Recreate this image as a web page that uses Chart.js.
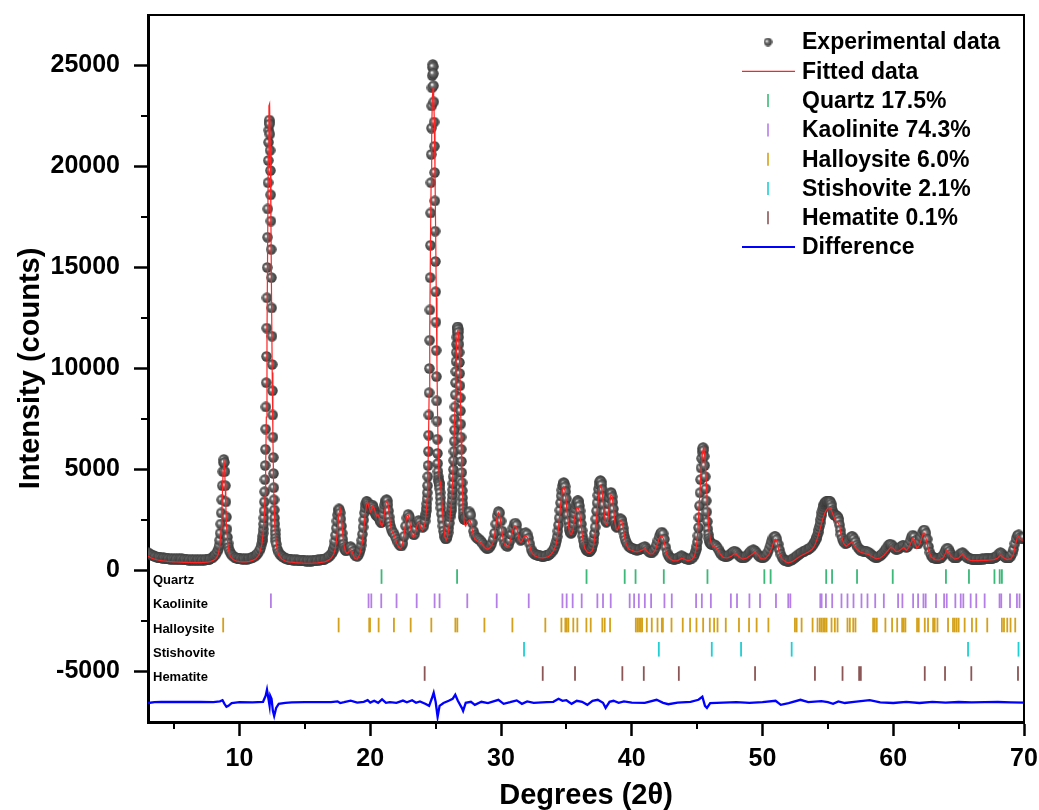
<!DOCTYPE html>
<html>
<head>
<meta charset="utf-8">
<script src="https://cdn.jsdelivr.net/npm/chart.js@4.4.1/dist/chart.umd.min.js"></script>
<style>
  html, body { margin: 0; padding: 0; background: #fff; }
  #wrap { width: 1039px; height: 810px; }
</style>
</head>
<body>
<div id="wrap"><canvas id="xrd" width="1039" height="810"></canvas></div>
<script>
// scan positions of the measured pattern (degrees 2-theta)
var obsTheta = [
  3.0, 3.1, 3.2, 3.3, 3.4, 3.5, 3.6, 3.7, 3.8, 3.9,
  4.0, 4.1, 4.2, 4.3, 4.4, 4.5, 4.6, 4.7, 4.8, 4.9,
  5.0, 5.1, 5.2, 5.3, 5.4, 5.5, 5.6, 5.7, 5.8, 5.9,
  6.0, 6.1, 6.2, 6.3, 6.4, 6.5, 6.6, 6.7, 6.8, 6.9,
  7.0, 7.1, 7.2, 7.3, 7.4, 7.5, 7.6, 7.7, 7.8, 7.9,
  8.0, 8.1, 8.2, 8.3,
  8.40, 8.44, 8.48, 8.52, 8.56, 8.60, 8.64, 8.68, 8.72, 8.76,
  8.80, 8.84, 8.88, 8.92, 8.96, 9.00, 9.04, 9.08, 9.12, 9.16,
  9.20,
  9.3, 9.4, 9.5, 9.6, 9.7, 9.8, 9.9,
  10.0, 10.1, 10.2, 10.3, 10.4, 10.5, 10.6, 10.7, 10.8, 10.9,
  11.0, 11.1, 11.2, 11.3, 11.4, 11.5, 11.6, 11.7,
  11.74, 11.76, 11.78, 11.80, 11.82, 11.84, 11.86, 11.88, 11.90, 11.92,
  11.94, 11.96, 11.98, 12.00, 12.02, 12.04, 12.06, 12.08, 12.10, 12.12,
  12.14, 12.16, 12.18, 12.20, 12.22, 12.24, 12.26, 12.28, 12.30, 12.32,
  12.34, 12.36, 12.38, 12.40, 12.42, 12.44, 12.46, 12.48, 12.50, 12.52,
  12.54, 12.56, 12.58, 12.60, 12.62, 12.64, 12.66, 12.68, 12.70, 12.72,
  12.74, 12.76, 12.78, 12.80,
  12.9, 13.0, 13.1, 13.2, 13.3, 13.4, 13.5, 13.6, 13.7, 13.8,
  13.9, 14.0, 14.1, 14.2, 14.3, 14.4, 14.5, 14.6, 14.7, 14.8,
  14.9, 15.0, 15.1, 15.2, 15.3, 15.4, 15.5, 15.6, 15.7, 15.8,
  15.9, 16.0, 16.1, 16.2, 16.3, 16.4, 16.5, 16.6, 16.7, 16.8,
  16.9, 17.0, 17.1,
  17.15, 17.20, 17.25, 17.30, 17.35, 17.40, 17.45, 17.50, 17.55, 17.60,
  17.65, 17.70, 17.75, 17.80, 17.85, 17.90, 17.95, 18.00, 18.05,
  18.1, 18.2, 18.3, 18.4, 18.5, 18.6, 18.7, 18.8, 18.9, 19.0,
  19.1, 19.2,
  19.25, 19.30, 19.35, 19.40, 19.45, 19.50, 19.55, 19.60, 19.65, 19.70,
  19.75, 19.80, 19.85, 19.90, 19.95, 20.00, 20.05, 20.10, 20.15, 20.20,
  20.25, 20.30, 20.35, 20.40, 20.45, 20.50, 20.55, 20.60, 20.65, 20.70,
  20.75, 20.80, 20.85, 20.90, 20.95, 21.00, 21.05, 21.10, 21.15, 21.20,
  21.25, 21.30, 21.35, 21.40, 21.45, 21.50, 21.55, 21.60,
  21.7, 21.8, 21.9, 22.0, 22.1, 22.2, 22.3, 22.4, 22.5, 22.6,
  22.7, 22.8, 22.9, 23.0, 23.1, 23.2, 23.3, 23.4, 23.5, 23.6,
  23.7, 23.8, 23.9, 24.0, 24.1, 24.2,
  24.24, 24.26, 24.28, 24.30, 24.32, 24.34, 24.36, 24.38, 24.40, 24.42,
  24.44, 24.46, 24.48, 24.50, 24.52, 24.54, 24.56, 24.58, 24.60, 24.62,
  24.64, 24.66, 24.68, 24.70, 24.72, 24.74, 24.76, 24.78, 24.80, 24.82,
  24.84, 24.86, 24.88, 24.90, 24.92, 24.94, 24.96, 24.98, 25.00, 25.02,
  25.04, 25.06, 25.08, 25.10, 25.12, 25.14, 25.16, 25.18, 25.20, 25.22,
  25.24, 25.26, 25.28, 25.30, 25.32, 25.34, 25.36, 25.38, 25.40,
  25.45, 25.50, 25.55, 25.60, 25.65, 25.70, 25.75, 25.80, 25.85, 25.90,
  25.95, 26.00, 26.05, 26.10, 26.15,
  26.20, 26.22, 26.24, 26.26, 26.28, 26.30, 26.32, 26.34, 26.36, 26.38,
  26.40, 26.42, 26.44, 26.46, 26.48, 26.50, 26.52, 26.54, 26.56, 26.58,
  26.60, 26.62, 26.64, 26.66, 26.68, 26.70, 26.72, 26.74, 26.76, 26.78,
  26.80, 26.82, 26.84, 26.86, 26.88, 26.90, 26.92, 26.94, 26.96, 26.98,
  27.00, 27.02, 27.04, 27.06, 27.08, 27.10, 27.12, 27.14, 27.16, 27.18,
  27.20, 27.22, 27.24, 27.26,
  27.3, 27.4, 27.5, 27.6, 27.7, 27.8, 27.9, 28.0, 28.1, 28.2,
  28.3, 28.4, 28.5, 28.6, 28.7, 28.8, 28.9, 29.0, 29.1, 29.2,
  29.3, 29.4, 29.5, 29.6, 29.7, 29.8, 29.9, 30.0, 30.1, 30.2,
  30.3, 30.4, 30.5, 30.6, 30.7, 30.8, 30.9, 31.0, 31.1, 31.2,
  31.3, 31.4, 31.5, 31.6, 31.7, 31.8, 31.9, 32.0, 32.1, 32.2,
  32.3, 32.4, 32.5, 32.6, 32.7, 32.8, 32.9, 33.0, 33.1, 33.2,
  33.3, 33.4, 33.5, 33.6, 33.7, 33.8, 33.9, 34.0, 34.1, 34.2,
  34.25, 34.30, 34.35, 34.40, 34.45, 34.50, 34.55, 34.60, 34.65, 34.70,
  34.75, 34.80, 34.85, 34.90, 34.95, 35.00, 35.05, 35.10, 35.15, 35.20,
  35.25, 35.30, 35.35, 35.40, 35.45, 35.50, 35.55, 35.60, 35.65, 35.70,
  35.75, 35.80, 35.85, 35.90, 35.95, 36.00, 36.05, 36.10, 36.15, 36.20,
  36.25, 36.30, 36.35, 36.40, 36.45, 36.50, 36.55, 36.60, 36.65, 36.70,
  36.75, 36.80, 36.85, 36.90, 36.95, 37.00, 37.05, 37.10, 37.15, 37.20,
  37.25, 37.30, 37.35, 37.40, 37.45, 37.50, 37.55, 37.60, 37.65, 37.70,
  37.75, 37.80, 37.85, 37.90, 37.95, 38.00, 38.05, 38.10, 38.15, 38.20,
  38.25, 38.30, 38.35, 38.40, 38.45, 38.50, 38.55, 38.60, 38.65, 38.70,
  38.75, 38.80, 38.85, 38.90, 38.95, 39.00, 39.05, 39.10, 39.15, 39.20,
  39.25, 39.30, 39.35, 39.40, 39.45, 39.50,
  39.6, 39.7, 39.8, 39.9, 40.0, 40.1, 40.2, 40.3, 40.4, 40.5,
  40.6, 40.7, 40.8, 40.9, 41.0, 41.1, 41.2, 41.3, 41.4, 41.5,
  41.6, 41.7, 41.8, 41.9, 42.0, 42.1, 42.2, 42.3, 42.4, 42.5,
  42.6, 42.7, 42.8, 42.9, 43.0, 43.1, 43.2, 43.3, 43.4, 43.5,
  43.6, 43.7, 43.8, 43.9, 44.0, 44.1, 44.2, 44.3, 44.4, 44.5,
  44.6, 44.7, 44.8, 44.9,
  44.94, 44.98, 45.02, 45.06, 45.10, 45.14, 45.18, 45.22, 45.26, 45.30,
  45.34, 45.38, 45.42, 45.46, 45.50, 45.54, 45.58, 45.62, 45.66, 45.70,
  45.74, 45.78, 45.82, 45.86, 45.90, 45.94, 45.98, 46.02, 46.06, 46.10,
  46.2, 46.3, 46.4, 46.5, 46.6, 46.7, 46.8, 46.9, 47.0, 47.1,
  47.2, 47.3, 47.4, 47.5, 47.6, 47.7, 47.8, 47.9, 48.0, 48.1,
  48.2, 48.3, 48.4, 48.5, 48.6, 48.7, 48.8, 48.9, 49.0, 49.1,
  49.2, 49.3, 49.4, 49.5, 49.6, 49.7, 49.8, 49.9, 50.0, 50.1,
  50.2, 50.3, 50.4, 50.5, 50.6, 50.7, 50.8, 50.9, 51.0, 51.1,
  51.2, 51.3, 51.4, 51.5, 51.6, 51.7, 51.8, 51.9, 52.0, 52.1,
  52.2, 52.3, 52.4, 52.5, 52.6, 52.7, 52.8, 52.9, 53.0, 53.1,
  53.2, 53.3, 53.4, 53.5, 53.6, 53.7, 53.8, 53.9, 54.0,
  54.05, 54.10, 54.15, 54.20, 54.25, 54.30, 54.35, 54.40, 54.45, 54.50,
  54.55, 54.60, 54.65, 54.70, 54.75, 54.80, 54.85, 54.90, 54.95, 55.00,
  55.05, 55.10, 55.15, 55.20, 55.25, 55.30, 55.35, 55.40, 55.45, 55.50,
  55.55, 55.60, 55.65, 55.70, 55.75, 55.80, 55.85, 55.90, 55.95, 56.00,
  56.1, 56.2, 56.3, 56.4, 56.5, 56.6, 56.7, 56.8, 56.9, 57.0,
  57.1, 57.2, 57.3, 57.4, 57.5, 57.6, 57.7, 57.8, 57.9, 58.0,
  58.1, 58.2, 58.3, 58.4, 58.5, 58.6, 58.7, 58.8, 58.9, 59.0,
  59.1, 59.2, 59.3, 59.4, 59.5, 59.6, 59.7, 59.8, 59.9, 60.0,
  60.1, 60.2, 60.3, 60.4, 60.5, 60.6, 60.7, 60.8, 60.9, 61.0,
  61.1, 61.2, 61.3, 61.4, 61.5, 61.6, 61.7, 61.8, 61.9, 62.0,
  62.1, 62.2, 62.3, 62.4, 62.5, 62.6, 62.7, 62.8, 62.9, 63.0,
  63.1, 63.2, 63.3, 63.4, 63.5, 63.6, 63.7, 63.8, 63.9, 64.0,
  64.1, 64.2, 64.3, 64.4, 64.5, 64.6, 64.7, 64.8, 64.9, 65.0,
  65.1, 65.2, 65.3, 65.4, 65.5, 65.6, 65.7, 65.8, 65.9, 66.0,
  66.1, 66.2, 66.3, 66.4, 66.5, 66.6, 66.7, 66.8, 66.9, 67.0,
  67.1, 67.2, 67.3, 67.4, 67.5, 67.6, 67.7, 67.8, 67.9, 68.0,
  68.1, 68.2, 68.3, 68.4, 68.5, 68.6, 68.7, 68.8, 68.9, 69.0,
  69.1, 69.2, 69.3, 69.4, 69.5, 69.6, 69.7, 69.8, 69.9, 70.0
];

// measured intensity (counts), same order as obsTheta
var observed = [
  880, 830, 800, 760, 740, 700, 690, 650, 660, 620,
  640, 600, 620, 580, 610, 570, 600, 560, 590, 550,
  580, 540, 580, 540, 570, 530, 570, 520, 560, 520,
  550, 510, 550, 510, 540, 500, 540, 500, 530, 500,
  540, 500, 540, 510, 550, 520, 560, 550, 600, 620,
  680, 740, 820, 930,
  1080, 1250, 1500, 1850, 2300, 2850, 3500, 4200, 4900, 5350,
  5500, 5350, 4900, 4200, 3400, 2650, 2050, 1650, 1350, 1150,
  1000,
  880, 780, 720, 660, 640, 600, 610,
  570, 590, 550, 580, 550, 580, 560, 590, 590, 620,
  640, 680, 720, 780, 860, 960, 1100, 1300,
  1450, 1550, 1700, 1850, 2050, 2300, 2600, 2950, 3400, 3900,
  4500, 5200, 6000, 7000, 8100, 9300, 10600, 12000, 13500, 15000,
  16500, 17900, 19200, 20300, 21200, 21800, 22200, 22300, 22100, 21600,
  20800, 19800, 18600, 17300, 15900, 14500, 13000, 11600, 10200, 8900,
  7700, 6600, 5600, 4800, 4100, 3500, 3000, 2600, 2300, 2000,
  1800, 1600, 1450, 1300,
  1050, 900, 800, 740, 680, 650, 600, 590, 560, 560,
  530, 540, 510, 530, 500, 520, 490, 510, 480, 510,
  480, 500, 470, 500, 470, 500, 470, 500, 480, 510,
  490, 520, 500, 530, 520, 560, 560, 600, 620, 670,
  720, 800, 900,
  980, 1080, 1250, 1450, 1750, 2100, 2450, 2750, 2950, 3050,
  3000, 2850, 2550, 2200, 1850, 1550, 1300, 1150, 1050,
  1000, 980, 1020, 1120, 1180, 1100, 950, 800, 720, 700,
  780, 920,
  1050, 1250, 1500, 1800, 2150, 2500, 2850, 3100, 3300, 3400,
  3420, 3350, 3250, 3150, 3080, 3050, 3100, 3180, 3230, 3200,
  3100, 2980, 2870, 2800, 2750, 2720, 2700, 2680, 2620, 2550,
  2480, 2400, 2380, 2450, 2600, 2800, 3050, 3250, 3400, 3480,
  3500, 3450, 3250, 2950, 2650, 2400, 2200, 2050,
  1900, 1850, 1700, 1550, 1400, 1300, 1230, 1220, 1350, 1700,
  2200, 2600, 2780, 2650, 2250, 1950, 1780, 1800, 2050, 2350,
  2480, 2400, 2250, 2150, 2200, 2450,
  2700, 2800, 2950, 3100, 3300, 3550, 3850, 4200, 4650, 5200,
  5900, 6700, 7700, 8800, 10000, 11400, 12900, 14500, 16100, 17700,
  19200, 20600, 21900, 23000, 23900, 24500, 24900, 25050, 24950, 24600,
  24000, 23200, 22200, 21000, 19700, 18300, 16800, 15300, 13800, 12300,
  10900, 9600, 8400, 7400, 6500, 5800, 5300, 4900, 4650, 4500,
  4400, 4350, 4300, 4200, 4050, 3850, 3600, 3350, 3100,
  2800, 2500, 2200, 1950, 1780, 1650, 1580, 1570, 1620, 1720,
  1880, 2100, 2350, 2650, 2800,
  2950, 3100, 3300, 3500, 3750, 4000, 4300, 4650, 5000, 5450,
  5900, 6400, 6950, 7500, 8100, 8700, 9300, 9850, 10350, 10800,
  11200, 11550, 11800, 11950, 12050, 12050, 11950, 11800, 11550, 11200,
  10800, 10300, 9750, 9150, 8550, 7900, 7250, 6600, 6000, 5400,
  4850, 4350, 3950, 3600, 3300, 3050, 2850, 2700, 2600, 2550,
  2530, 2540, 2560, 2600,
  2620, 2700, 2850, 2900, 2750, 2350, 1950, 1750, 1650, 1600,
  1560, 1500, 1420, 1330, 1230, 1160, 1110, 1100, 1130, 1220,
  1350, 1550, 1850, 2300, 2700, 2920, 2850, 2450, 1950, 1550,
  1320, 1220, 1200, 1280, 1480, 1780, 2100, 2300, 2350, 2250,
  1920, 1620, 1500, 1540, 1700, 1850, 1870, 1800, 1600, 1320,
  1060, 920, 850, 800, 780, 750, 740, 720, 710, 700,
  710, 720, 740, 760, 800, 860, 930, 1020, 1150, 1320,
  1480, 1680, 1950, 2250, 2600, 2980, 3350, 3700, 3980, 4200,
  4320, 4350, 4300, 4150, 3900, 3550, 3150, 2750, 2420, 2150,
  1980, 1880, 1850, 1870, 1950, 2100, 2300, 2550, 2800, 3050,
  3250, 3380, 3450, 3450, 3380, 3200, 2950, 2650, 2300, 1980,
  1700, 1480, 1320, 1200, 1120, 1060, 1020, 990, 970, 960,
  950, 960, 990, 1040, 1120, 1230, 1380, 1580, 1830, 2150,
  2550, 2950, 3350, 3720, 4030, 4250, 4400, 4450, 4400, 4250,
  4000, 3650, 3250, 2900, 2620, 2450, 2400, 2450, 2650, 2950,
  3300, 3600, 3800, 3870, 3820, 3650, 3380, 3050, 2720, 2450,
  2270, 2180, 2150, 2180, 2260, 2350, 2450, 2520, 2550, 2530,
  2450, 2300, 2100, 1880, 1680, 1520,
  1380, 1260, 1180, 1130, 1100, 1080, 1050, 1030, 1010, 1020,
  1040, 1070, 1110, 1160, 1180, 1120, 1020, 940, 900, 890,
  910, 980, 1100, 1280, 1480, 1680, 1830, 1900, 1820, 1550,
  1150, 880, 740, 650, 600, 570, 560, 560, 570, 590,
  630, 690, 720, 700, 650, 600, 570, 560, 560, 580,
  610, 670, 780, 950,
  1050, 1200, 1420, 1720, 2120, 2620, 3200, 3850, 4500, 5080,
  5550, 5880, 6050, 6080, 5950, 5650, 5200, 4650, 4050, 3450,
  2900, 2420, 2050, 1780, 1600, 1480, 1400, 1350, 1320, 1300,
  1290, 1280, 1250, 1180, 1080, 960, 850, 770, 720, 700,
  690, 700, 730, 780, 840, 900, 940, 950, 900, 820,
  740, 680, 640, 620, 630, 670, 730, 800, 880, 950,
  1000, 1020, 990, 920, 830, 740, 680, 650, 640, 660,
  700, 780, 900, 1060, 1250, 1450, 1600, 1680, 1680, 1550,
  1300, 1020, 800, 650, 560, 510, 480, 470, 460, 480,
  520, 560, 610, 660, 710, 760, 810, 860, 890, 930,
  960, 990, 1030, 1060, 1100, 1150, 1220, 1310, 1420,
  1480, 1560, 1650, 1760, 1880, 2020, 2180, 2350, 2530, 2710,
  2880, 3030, 3160, 3260, 3330, 3370, 3400, 3420, 3420, 3410,
  3400, 3400, 3420, 3400, 3300, 3150, 2980, 2850, 2780, 2750,
  2730, 2720, 2700, 2680, 2650, 2580, 2450, 2250, 2000, 1780,
  1570, 1430, 1360, 1340, 1380, 1480, 1600, 1680, 1680, 1580,
  1420, 1260, 1140, 1060, 1010, 980, 960, 950, 940, 930,
  900, 860, 800, 740, 690, 660, 650, 660, 690, 730,
  780, 850, 930, 1020, 1120, 1220, 1290, 1300, 1260, 1180,
  1100, 1060, 1050, 1070, 1120, 1180, 1230, 1240, 1200, 1150,
  1180, 1300, 1480, 1660, 1750, 1680, 1480, 1320, 1320, 1450,
  1650, 1850, 1980, 2000, 1850, 1550, 1180, 900, 740, 660,
  620, 600, 590, 590, 600, 620, 660, 740, 860, 1000,
  1100, 1080, 960, 820, 720, 660, 630, 630, 660, 720,
  800, 860, 870, 820, 740, 670, 620, 590, 570, 560,
  560, 550, 550, 560, 550, 560, 560, 570, 560, 570,
  570, 580, 580, 590, 590, 600, 620, 650, 700, 760,
  840, 880, 840, 760, 690, 640, 620, 620, 650, 720,
  850, 1050, 1330, 1580, 1740, 1760, 1640, 1560, 1600, 1650
];

// grid of the calculated (fitted) pattern
var calcTheta = [
  3.0, 3.25, 3.5, 3.75, 4.0, 4.25, 4.5, 4.75, 5.0, 5.25,
  5.5, 5.75, 6.0, 6.25, 6.5, 6.75, 7.0, 7.25, 7.5, 7.75,
  8.0, 8.2, 8.3, 8.4, 8.5, 8.6, 8.65, 8.7, 8.75, 8.8,
  8.85, 8.9, 8.95, 9.0, 9.1, 9.2, 9.3, 9.5, 9.75, 10.0,
  10.25, 10.5, 10.75, 11.0, 11.25, 11.5, 11.7, 11.8, 11.9, 11.95,
  12.0, 12.05, 12.1, 12.15, 12.2, 12.25, 12.3, 12.35, 12.4, 12.45,
  12.5, 12.55, 12.6, 12.65, 12.7, 12.8, 12.9, 13.0, 13.25, 13.5,
  13.75, 14.0, 14.25, 14.5, 14.75, 15.0, 15.25, 15.5, 15.75, 16.0,
  16.25, 16.5, 16.75, 17.0, 17.2, 17.3, 17.4, 17.5, 17.6, 17.7,
  17.8, 17.9, 18.0, 18.1, 18.2, 18.3, 18.4, 18.5, 18.6, 18.7,
  18.8, 19.0, 19.2, 19.4, 19.5, 19.6, 19.7, 19.8, 19.9, 20.0,
  20.1, 20.2, 20.3, 20.4, 20.5, 20.6, 20.7, 20.8, 20.9, 21.0,
  21.1, 21.2, 21.3, 21.4, 21.5, 21.6, 21.7, 21.8, 21.9, 22.0,
  22.1, 22.2, 22.3, 22.4, 22.5, 22.6, 22.7, 22.8, 22.9, 23.0,
  23.1, 23.2, 23.3, 23.4, 23.5, 23.6, 23.7, 23.8, 23.9, 24.0,
  24.1, 24.2, 24.3, 24.35, 24.4, 24.45, 24.5, 24.55, 24.6, 24.65,
  24.7, 24.75, 24.8, 24.85, 24.9, 24.95, 25.0, 25.05, 25.1, 25.15,
  25.2, 25.25, 25.3, 25.35, 25.4, 25.5, 25.6, 25.7, 25.8, 25.9,
  26.0, 26.1, 26.2, 26.3, 26.4, 26.5, 26.55, 26.6, 26.65, 26.7,
  26.75, 26.8, 26.85, 26.9, 26.95, 27.0, 27.1, 27.2, 27.3, 27.4,
  27.5, 27.6, 27.7, 27.8, 27.9, 28.0, 28.2, 28.4, 28.6, 28.8,
  29.0, 29.2, 29.4, 29.5, 29.6, 29.7, 29.8, 29.9, 30.0, 30.1,
  30.2, 30.3, 30.4, 30.5, 30.6, 30.7, 30.8, 30.9, 31.0, 31.1,
  31.2, 31.3, 31.4, 31.5, 31.6, 31.7, 31.8, 31.9, 32.0, 32.1,
  32.2, 32.3, 32.4, 32.6, 32.8, 33.0, 33.2, 33.4, 33.6, 33.8,
  34.0, 34.2, 34.3, 34.4, 34.5, 34.6, 34.7, 34.8, 34.9, 35.0,
  35.1, 35.2, 35.3, 35.4, 35.5, 35.6, 35.7, 35.8, 35.9, 36.0,
  36.1, 36.2, 36.3, 36.4, 36.6, 36.8, 37.0, 37.1, 37.2, 37.3,
  37.4, 37.5, 37.6, 37.7, 37.8, 37.9, 38.0, 38.1, 38.2, 38.3,
  38.4, 38.5, 38.6, 38.7, 38.8, 38.9, 39.0, 39.1, 39.2, 39.3,
  39.4, 39.5, 39.6, 39.8, 40.0, 40.2, 40.4, 40.6, 40.8, 41.0,
  41.2, 41.4, 41.6, 41.8, 41.9, 42.0, 42.1, 42.2, 42.3, 42.4,
  42.5, 42.6, 42.7, 42.9, 43.2, 43.5, 43.8, 44.0, 44.3, 44.6,
  44.8, 44.9, 45.0, 45.1, 45.2, 45.3, 45.4, 45.5, 45.6, 45.7,
  45.8, 45.9, 46.0, 46.1, 46.2, 46.4, 46.6, 46.8, 47.0, 47.3,
  47.6, 47.9, 48.2, 48.5, 48.8, 49.1, 49.4, 49.6, 49.9, 50.2,
  50.5, 50.7, 50.8, 50.9, 51.0, 51.1, 51.2, 51.3, 51.5, 51.8,
  52.0, 52.3, 52.6, 52.9, 53.2, 53.5, 53.8, 54.0, 54.2, 54.4,
  54.6, 54.8, 55.0, 55.2, 55.4, 55.6, 55.8, 55.9, 56.0, 56.2,
  56.4, 56.6, 56.8, 56.9, 57.0, 57.2, 57.5, 57.8, 58.1, 58.4,
  58.7, 59.0, 59.3, 59.6, 59.8, 60.0, 60.2, 60.4, 60.6, 60.8,
  61.0, 61.2, 61.4, 61.5, 61.6, 61.8, 62.0, 62.2, 62.3, 62.4,
  62.5, 62.7, 62.9, 63.2, 63.5, 63.8, 64.0, 64.1, 64.2, 64.4,
  64.7, 65.0, 65.2, 65.35, 65.6, 65.9, 66.2, 66.5, 66.8, 67.1,
  67.4, 67.7, 68.0, 68.2, 68.4, 68.7, 69.0, 69.2, 69.35, 69.5,
  69.6, 69.7, 69.85, 70.0
];

// Rietveld fit (counts), same order as calcTheta
var calculated = [
  720, 620, 560, 520, 490, 470, 450, 440, 430, 420,
  410, 400, 400, 395, 390, 390, 390, 395, 410, 440,
  500, 600, 700, 880, 1250, 2100, 2900, 4000, 5000, 5500,
  5200, 4300, 3300, 2300, 1350, 900, 680, 540, 470, 440,
  430, 430, 450, 500, 580, 780, 1250, 1800, 2700, 3700,
  5000, 7600, 11500, 16000, 20500, 23000, 23100, 21000, 17500, 13500,
  9800, 6800, 4500, 3100, 2200, 1400, 950, 750, 560, 470,
  430, 410, 390, 380, 370, 360, 360, 360, 370, 380,
  400, 430, 490, 600, 800, 1000, 1400, 2100, 2800, 3050,
  2600, 1800, 1200, 950, 850, 880, 1000, 1050, 950, 780,
  620, 560, 800, 1400, 2000, 2700, 3200, 3400, 3150, 2900,
  3000, 3200, 3100, 2850, 2700, 2750, 2600, 2300, 2200, 2400,
  2900, 3350, 3450, 3100, 2500, 2050, 1900, 1800, 1600, 1400,
  1250, 1150, 1100, 1150, 1400, 1850, 2350, 2700, 2750, 2500,
  2050, 1750, 1650, 1750, 2000, 2300, 2350, 2250, 2050, 2000,
  2100, 2400, 3000, 3600, 4600, 6200, 8700, 12000, 15800, 19000,
  21800, 23400, 23900, 23500, 22200, 19800, 16800, 13500, 10200, 7600,
  5800, 4900, 4500, 4400, 4100, 3200, 2300, 1700, 1500, 1650,
  2050, 2600, 3300, 4400, 6200, 8600, 10100, 11200, 11800, 11900,
  11700, 11100, 10000, 8500, 6700, 4900, 3000, 2300, 2200, 2400,
  2450, 2500, 2350, 2000, 1700, 1550, 1450, 1400, 1250, 1100,
  1050, 1150, 1400, 1700, 2200, 2650, 2850, 2700, 2300, 1800,
  1400, 1250, 1150, 1150, 1250, 1450, 1700, 2000, 2200, 2200,
  2100, 1800, 1500, 1400, 1450, 1600, 1700, 1700, 1650, 1450,
  1200, 980, 830, 720, 670, 640, 630, 650, 680, 780,
  950, 1250, 1600, 2150, 2800, 3500, 4000, 4150, 3950, 3300,
  2600, 2050, 1800, 1800, 2000, 2450, 2900, 3100, 3100, 2900,
  2400, 1850, 1400, 1100, 900, 880, 1000, 1300, 1800, 2500,
  3300, 3900, 4200, 4100, 3500, 2800, 2300, 2250, 2700, 3300,
  3750, 3700, 3150, 2450, 2050, 2000, 2150, 2400, 2500, 2300,
  1900, 1500, 1250, 1050, 1000, 950, 920, 960, 1020, 1080,
  920, 820, 830, 1000, 1200, 1400, 1600, 1700, 1700, 1600,
  1350, 1000, 760, 580, 480, 490, 600, 570, 480, 540,
  720, 1000, 1500, 2500, 3700, 4900, 5800, 6100, 5600, 4400,
  3100, 2100, 1550, 1300, 1200, 1150, 1000, 780, 650, 620,
  700, 850, 680, 560, 620, 760, 900, 820, 580, 580,
  800, 1100, 1300, 1500, 1550, 1450, 1150, 850, 560, 420,
  380, 450, 580, 720, 820, 920, 1050, 1250, 1600, 2050,
  2550, 2900, 3100, 3100, 2750, 2450, 2350, 2200, 1800, 1350,
  1200, 1300, 1400, 1350, 1250, 1050, 900, 850, 800, 680,
  580, 620, 760, 1000, 1150, 1100, 950, 950, 1050, 1150,
  1000, 1150, 1450, 1600, 1500, 1100, 1250, 1650, 1850, 1850,
  1600, 1000, 680, 540, 520, 620, 850, 1000, 950, 720,
  560, 620, 760, 780, 590, 500, 490, 490, 500, 500,
  520, 540, 620, 760, 640, 540, 580, 820, 1300, 1650,
  1700, 1550, 1500, 1600
];

// observed minus calculated, plotted with its offset
var diffTheta = [
  3.0, 3.5, 4.0, 5.0, 6.0, 7.0, 8.0, 8.5, 8.7, 8.85,
  9.0, 9.15, 9.4, 10.0, 11.0, 11.8, 12.0, 12.1, 12.2, 12.3,
  12.35, 12.45, 12.55, 12.65, 12.8, 13.0, 13.5, 14.0, 15.0, 16.0,
  17.0, 17.5, 17.7, 18.0, 18.5, 19.0, 19.5, 19.8, 20.0, 20.3,
  20.6, 20.9, 21.2, 21.5, 22.0, 22.5, 22.8, 23.2, 23.5, 23.8,
  24.2, 24.5, 24.7, 24.85, 25.0, 25.15, 25.3, 25.6, 26.0, 26.3,
  26.5, 26.7, 27.0, 27.1, 27.3, 27.7, 28.0, 28.5, 29.0, 29.8,
  30.2, 30.7, 31.2, 31.6, 32.0, 32.5, 33.5, 34.0, 34.4, 34.7,
  35.0, 35.4, 35.8, 36.2, 36.6, 37.0, 37.4, 37.8, 38.0, 38.3,
  38.6, 39.0, 39.4, 40.0, 41.0, 41.9, 42.4, 42.8, 43.5, 44.5,
  45.1, 45.4, 45.6, 45.75, 46.0, 47.0, 48.0, 49.0, 50.0, 51.0,
  51.4, 52.0, 52.9, 53.5, 54.5, 55.0, 55.4, 55.8, 56.3, 57.0,
  58.2, 59.0, 60.0, 61.0, 62.0, 63.0, 64.0, 65.0, 66.0, 67.0,
  68.0, 69.0, 70.0
];
var difference = [
  -6560, -6520, -6500, -6510, -6500, -6510, -6520, -6480, -6420, -6600,
  -6750, -6700, -6560, -6520, -6530, -6500, -6200, -5900, -6300, -6700,
  -6200, -6350, -6950, -7200, -6800, -6600, -6550, -6530, -6520, -6520,
  -6520, -6480, -6560, -6520, -6440, -6540, -6500, -6420, -6540, -6450,
  -6550, -6380, -6550, -6520, -6550, -6440, -6520, -6420, -6550, -6480,
  -6600, -6700, -6350, -6050, -6500, -7250, -6700, -6560, -6450, -6350,
  -6150, -6450, -6800, -6950, -6550, -6500, -6650, -6500, -6560, -6400,
  -6600, -6520, -6430, -6600, -6480, -6550, -6520, -6500, -6350, -6450,
  -6420, -6600, -6450, -6500, -6650, -6450, -6400, -6550, -6800, -6500,
  -6450, -6550, -6480, -6540, -6550, -6400, -6550, -6620, -6540, -6500,
  -6400, -6250, -6700, -6800, -6560, -6540, -6520, -6550, -6520, -6450,
  -6650, -6560, -6400, -6520, -6470, -6520, -6600, -6480, -6560, -6500,
  -6420, -6530, -6560, -6500, -6560, -6500, -6540, -6510, -6530, -6520,
  -6510, -6530, -6540
];

// Bragg reflection positions (degrees 2-theta) for each phase
var quartzPeaks = [20.86, 26.64, 36.54, 39.46, 40.29, 42.45, 45.79, 50.14, 50.62, 54.87,
  55.32, 57.23, 59.96, 64.03, 65.79, 67.74, 68.14, 68.31];
var kaolinitePeaks = [12.40, 19.87, 20.08, 20.84, 22.01, 23.55, 24.92, 25.30, 27.42, 29.67,
  32.12, 34.70, 35.02, 35.48, 36.17, 37.37, 37.80, 38.39, 39.84, 40.18,
  40.54, 41.00, 41.48, 42.50, 43.06, 44.92, 45.36, 46.05, 47.58, 48.05,
  49.00, 49.81, 51.03, 51.97, 52.13, 54.42, 54.52, 54.85, 55.33, 56.04,
  56.50, 56.96, 57.57, 58.03, 58.62, 59.28, 60.37, 60.70, 61.52, 61.90,
  62.31, 62.48, 63.27, 63.89, 64.09, 64.75, 65.16, 65.36, 65.92, 66.35,
  66.99, 68.13, 68.26, 68.93, 69.46, 69.66];
var halloysitePeaks = [8.75, 17.58, 19.92, 19.98, 20.64, 21.81, 23.09, 24.67, 26.51, 26.66,
  28.73, 30.87, 33.39, 34.62, 34.92, 35.02, 35.15, 35.53, 35.84, 36.53,
  36.86, 37.75, 37.93, 38.34, 40.31, 40.44, 40.56, 40.69, 40.79, 41.15,
  41.53, 41.97, 42.30, 42.38, 43.04, 43.90, 44.46, 44.95, 45.46, 45.97,
  46.30, 46.56, 47.19, 48.20, 48.97, 49.55, 50.45, 52.48, 52.61, 52.99,
  53.83, 54.21, 54.39, 54.52, 54.65, 54.77, 54.90, 55.28, 55.53, 55.74,
  56.50, 56.68, 56.94, 57.11, 58.46, 58.59, 58.74, 59.40, 59.91, 60.30,
  60.68, 60.80, 60.93, 61.82, 61.95, 62.41, 62.66, 63.05, 63.17, 63.38,
  64.19, 64.57, 64.70, 64.85, 65.00, 65.46, 66.02, 66.35, 67.19, 68.31,
  68.47, 68.72, 68.97, 69.33];
var stishovitePeaks = [31.76, 42.07, 46.12, 48.36, 52.23, 65.72, 69.58];
var hematitePeaks = [24.16, 33.19, 35.66, 39.28, 40.92, 43.60, 49.43, 54.01, 56.12, 57.39,
  57.52, 62.41, 63.96, 65.97, 69.54];

var FONT = "'Liberation Sans', Arial, Helvetica, sans-serif";

// shaded grey ball used as the marker of the experimental points
function makeSphere(d) {
  var c = document.createElement('canvas');
  c.width = d; c.height = d;
  var g = c.getContext('2d');
  var r = d / 2;
  var grad = g.createRadialGradient(r * 0.7, r * 0.8, r * 0.1, r, r, r);
  grad.addColorStop(0, '#f2f2f2');
  grad.addColorStop(0.3, '#707070');
  grad.addColorStop(1, '#333333');
  g.fillStyle = grad;
  g.beginPath();
  g.arc(r, r, r - 0.3, 0, Math.PI * 2);
  g.fill();
  return c;
}
var sphere = makeSphere(11);
var sphereSmall = makeSphere(9);

function pairs(xs, ys) {
  var n = Math.min(xs.length, ys.length), out = [];
  if (xs.length !== ys.length) console.warn('length mismatch', xs.length, ys.length);
  for (var i = 0; i < n; i++) out.push({ x: xs[i], y: ys[i] });
  return out;
}
function row(peaks, level) {
  return peaks.map(function(p) { return { x: p, y: level }; });
}

function phaseSet(label, peaks, level, color, rank, short) {
  return {
    label: label, short: short, legendKind: 'tick', legendRank: rank, rowLevel: level,
    data: row(peaks, level),
    showLine: false,
    pointStyle: 'line', rotation: 90, pointRadius: 7.3,
    borderColor: color, backgroundColor: color, pointBorderWidth: 1.8,
    order: 2
  };
}

var datasets = [
  {
    label: 'Fitted data', legendKind: 'line', legendRank: 1,
    data: pairs(calcTheta, calculated),
    showLine: true, pointRadius: 0,
    borderColor: 'rgb(255,35,35)', borderWidth: 1.2, tension: 0,
    order: 0
  },
  {
    label: 'Experimental data', legendKind: 'sphere', legendRank: 0,
    data: pairs(obsTheta, observed),
    showLine: false, pointStyle: sphere, pointRadius: 5.5,
    order: 1
  },
  phaseSet('Quartz 17.5%', quartzPeaks, -300, '#3cb878', 2, 'Quartz'),
  phaseSet('Kaolinite 74.3%', kaolinitePeaks, -1500, '#b57ee6', 3, 'Kaolinite'),
  phaseSet('Halloysite 6.0%', halloysitePeaks, -2700, '#d4a11c', 4, 'Halloysite'),
  phaseSet('Stishovite 2.1%', stishovitePeaks, -3900, '#1fcfd3', 5, 'Stishovite'),
  phaseSet('Hematite 0.1%', hematitePeaks, -5100, '#8c5656', 6, 'Hematite'),
  {
    label: 'Difference', legendKind: 'line', legendRank: 7,
    data: pairs(diffTheta, difference),
    showLine: true, pointRadius: 0,
    borderColor: '#0000ff', borderWidth: 2.3, tension: 0,
    order: 3
  }
];

// frame, minor ticks and phase row names
var decorPlugin = {
  id: 'decor',
  afterDraw: function(chart) {
    var c = chart.ctx, a = chart.chartArea;
    var xs = chart.scales.x, ys = chart.scales.y;
    c.save();
    c.strokeStyle = '#000';
    c.lineWidth = 2;
    c.beginPath();
    c.moveTo(a.left, a.top);
    c.lineTo(a.right, a.top);
    c.lineTo(a.right, a.bottom);
    c.stroke();

    var xt = xs.ticks, i, v, p;
    for (i = 0; i < xt.length - 1; i++) {
      v = (xt[i].value + xt[i + 1].value) / 2;
      p = Math.round(xs.getPixelForValue(v));
      c.beginPath(); c.moveTo(p, a.bottom); c.lineTo(p, a.bottom + 7); c.stroke();
    }
    // minor tick before the first labelled one
    v = xt[0].value - (xt[1].value - xt[0].value) / 2;
    if (v > xs.min) {
      p = Math.round(xs.getPixelForValue(v));
      c.beginPath(); c.moveTo(p, a.bottom); c.lineTo(p, a.bottom + 7); c.stroke();
    }
    var yt = ys.ticks;
    for (i = 0; i < yt.length - 1; i++) {
      v = (yt[i].value + yt[i + 1].value) / 2;
      p = Math.round(ys.getPixelForValue(v));
      c.beginPath(); c.moveTo(a.left - 7, p); c.lineTo(a.left, p); c.stroke();
    }

    c.fillStyle = '#000';
    c.font = 'bold 13px ' + FONT;
    c.textAlign = 'left';
    c.textBaseline = 'middle';
    chart.data.datasets.forEach(function(ds) {
      if (ds.legendKind !== 'tick') return;
      c.fillText(ds.short, a.left + 5, ys.getPixelForValue(ds.rowLevel) + 4);
    });
    c.restore();
  }
};

// legend drawn inside the plot, upper right
var legendPlugin = {
  id: 'insideLegend',
  afterDraw: function(chart) {
    var c = chart.ctx;
    var symX = 768, textX = 802, top = 42, step = 29.3;
    var items = chart.data.datasets.slice().sort(function(a, b) { return a.legendRank - b.legendRank; });
    c.save();
    c.font = 'bold 23px ' + FONT;
    c.textAlign = 'left';
    c.textBaseline = 'middle';
    items.forEach(function(ds, i) {
      var y = top + i * step;
      if (ds.legendKind === 'sphere') {
        c.drawImage(sphereSmall, symX - 4.5, y - 4.5, 9, 9);
      } else if (ds.legendKind === 'line') {
        c.strokeStyle = ds.borderColor;
        c.lineWidth = Math.min(ds.borderWidth, 2);
        c.beginPath(); c.moveTo(742, y); c.lineTo(795, y); c.stroke();
      } else {
        c.strokeStyle = ds.borderColor;
        c.lineWidth = 1.6;
        c.beginPath(); c.moveTo(symX, y - 6.5); c.lineTo(symX, y + 6.5); c.stroke();
      }
      c.fillStyle = '#000';
      c.fillText(ds.label, textX, y + 1);
    });
    c.restore();
  }
};

// keep the plot frame where the reference has it: no extra room for edge labels
function noEdgePadding(axis) {
  axis.paddingTop = 0;
  axis.paddingBottom = 0;
  axis.paddingLeft = 0;
  axis.paddingRight = 0;
}

Chart.defaults.font.family = FONT;
Chart.defaults.color = '#000';

var ctx = document.getElementById('xrd').getContext('2d');
var xrdChart = new Chart(ctx, {
  type: 'scatter',
  data: { datasets: datasets },
  options: {
    responsive: false,
    animation: false,
    devicePixelRatio: 1,
    events: [],
    layout: { padding: { top: 15, right: 15, left: 0, bottom: 0 } },
    plugins: {
      legend: { display: false },
      tooltip: { enabled: false }
    },
    scales: {
      x: {
        type: 'linear',
        min: 3,
        max: 70,
        afterBuildTicks: function(axis) {
          axis.ticks = axis.ticks.filter(function(t) { return t.value % 10 === 0; });
        },
        afterFit: function(axis) { axis.height = 88; noEdgePadding(axis); },
        ticks: {
          stepSize: 10,
          padding: 8,
          font: { size: 25, weight: 'bold' },
          color: '#000',
          callback: function(v) { return String(v); }
        },
        grid: { display: true, drawOnChartArea: false, drawTicks: true, tickLength: 14, tickWidth: 2.5, tickColor: '#000' },
        border: { display: true, color: '#000', width: 3 },
        title: {
          display: true,
          text: 'Degrees (2θ)',
          color: '#000',
          font: { size: 29, weight: 'bold', lineHeight: 1 },
          padding: { top: 0, bottom: 0 }
        }
      },
      y: {
        type: 'linear',
        min: -7500,
        max: 27500,
        afterBuildTicks: function(axis) {
          axis.ticks = axis.ticks.filter(function(t) {
            return Math.abs(t.value % 5000) < 1e-6 && t.value > -7500 && t.value < 27500;
          });
        },
        afterFit: function(axis) { axis.width = 148; noEdgePadding(axis); },
        ticks: {
          stepSize: 2500,
          padding: 14,
          font: { size: 25, weight: 'bold' },
          color: '#000',
          callback: function(v) { return String(v); }
        },
        grid: { display: true, drawOnChartArea: false, drawTicks: true, tickLength: 14, tickWidth: 2.5, tickColor: '#000' },
        border: { display: true, color: '#000', width: 3 },
        title: {
          display: true,
          text: 'Intensity (counts)',
          color: '#000',
          font: { size: 29, weight: 'bold', lineHeight: 1 },
          padding: { top: 16, bottom: 0 }
        }
      }
    }
  },
  plugins: [decorPlugin, legendPlugin]
});
</script>
</body>
</html>
